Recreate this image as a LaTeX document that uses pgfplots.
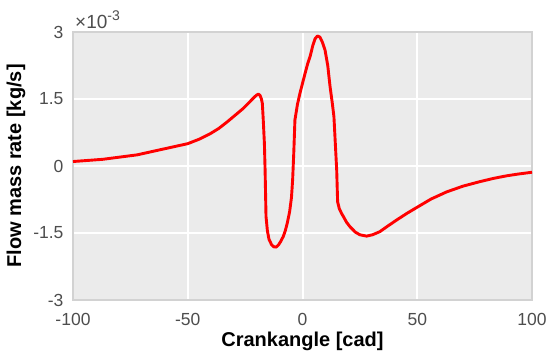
\documentclass[border=0pt]{standalone}
\usepackage{pgfplots}
\pgfplotsset{compat=1.18}
\usepackage{fontspec}
\setmainfont{Liberation Sans}
\definecolor{bgc}{HTML}{EBEBEB}
\definecolor{framec}{HTML}{D2D2D2}
\definecolor{tickc}{HTML}{4D4D4D}
\begin{document}
\begin{tikzpicture}[x=1pt,y=1pt]
\begin{axis}[
  name=ax,
  at={(0,0)}, anchor=south west,
  scale only axis,
  width=459pt, height=268pt,
  xmin=-100, xmax=100, ymin=-0.003, ymax=0.003,
  xtick={-100,-50,0,50,100},
  xticklabels={-100,-50,0,50,100},
  ytick={-0.003,-0.0015,0,0.0015,0.003},
  yticklabels={-3,-1.5,0,1.5,3},
  scaled y ticks=false,
  axis background/.style={fill=bgc},
  axis line style={draw=framec, line width=2pt},
  grid=major,
  major grid style={white, line width=2pt},
  tick style={draw=none},
  ticklabel style={font=\fontsize{17.5}{17.5}\selectfont, text=tickc},
  xticklabel style={yshift=-10pt},
  yticklabel style={xshift=-6pt},
  xlabel={\textbf{Crankangle [cad]}},
  ylabel={\textbf{Flow mass rate [kg/s]}},
  label style={font=\fontsize{20}{20}\selectfont},
  xlabel style={at={(axis description cs:0.5,-0.153)}, anchor=center},
  ylabel style={at={(axis description cs:-0.124,0.5)}, anchor=center},
  clip=true,
]
\addplot[red, line width=2.9pt, line join=round] coordinates {
(-100,0.000100) (-87,0.000150) (-72,0.000250) (-60.6,0.000380) (-50,0.000500)
(-45,0.000600) (-40.3,0.000720) (-36.5,0.000840) (-33,0.000980) (-29.5,0.001130)
(-25.8,0.001290) (-23.5,0.001410) (-21.4,0.001520) (-20.2,0.001580) (-19.2,0.001610)
(-18.5,0.001580) (-17.9,0.001500) (-17.5,0.001400) (-17.1,0.001030) (-16.6,0.000500)
(-16.3,-0.000090) (-15.9,-0.001130) (-15.3,-0.001450) (-14.6,-0.001640) (-13.5,-0.001760)
(-12.5,-0.001810) (-11.5,-0.001815) (-10.5,-0.001770) (-9.5,-0.001690) (-8.4,-0.001580)
(-7.5,-0.001450) (-6.6,-0.001270) (-5.6,-0.001020) (-4.8,-0.000700) (-4.3,-0.000310)
(-3.8,0.000300) (-3.3,0.001030) (-2.2,0.001380) (-1.1,0.001630) (1,0.002050)
(2.2,0.002280) (3.3,0.002450) (4.5,0.002700) (5.5,0.002850) (6.5,0.002910)
(7.5,0.002890) (8.6,0.002780) (9.8,0.002600) (11,0.002250) (12.0,0.001780)
(13.0,0.001400) (13.7,0.001100) (14.3,0.000500) (14.9,-0.000090) (15.3,-0.000800)
(16.0,-0.000950) (17.0,-0.001060) (17.8,-0.001130) (19.2,-0.001260) (20.7,-0.001360)
(23,-0.001480) (25.0,-0.001540) (27.9,-0.001570) (30.5,-0.001540) (33.7,-0.001470)
(37,-0.001350) (41.0,-0.001210) (45.5,-0.001060) (50.4,-0.000910) (56,-0.000740)
(62.8,-0.000580) (70,-0.000450) (77.3,-0.000350) (83,-0.000280) (88.9,-0.000220)
(94,-0.000180) (100,-0.000140)
};
\end{axis}
\node[anchor=south west, inner sep=0pt, text=tickc, font=\fontsize{19}{19}\selectfont]
  at ([xshift=2pt,yshift=3pt]ax.north west) {×10\raisebox{0.42em}{\fontsize{14}{14}\selectfont -3}};
\pgfresetboundingbox
\path (-73,-58) rectangle (475,300);
\end{tikzpicture}
\end{document}
